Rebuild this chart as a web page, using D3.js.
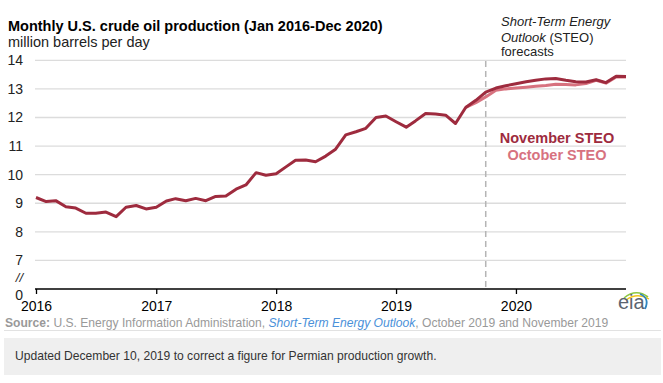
<!DOCTYPE html>
<html><head><meta charset="utf-8">
<script src="https://cdn.jsdelivr.net/npm/d3@7"></script>
<style>
body{margin:0;background:#fff;}
svg text{font-family:"Liberation Sans",Arial,sans-serif;}
</style></head>
<body><svg id="c" width="663" height="383"></svg>
<script>
// ---- data ----
const startMonth = new Date(2016, 0, 1);
const months = d3.timeMonth.range(startMonth, new Date(2021, 0, 1));
const novemberSTEO = [
  9.20, 9.06, 9.09, 8.88, 8.83, 8.65, 8.65, 8.69, 8.53, 8.86, 8.92, 8.80,
  8.86, 9.08, 9.16, 9.09, 9.17, 9.09, 9.24, 9.25, 9.49, 9.64, 10.07, 9.98,
  10.03, 10.28, 10.50, 10.51, 10.45, 10.65, 10.89, 11.39, 11.50, 11.62, 12.00, 12.05,
  11.85, 11.66, 11.88, 12.14, 12.12, 12.08, 11.79, 12.35, 12.60, 12.89, 13.03, 13.11,
  13.18, 13.25, 13.30, 13.35, 13.36, 13.30, 13.25, 13.24, 13.32, 13.22, 13.44, 13.43
];
const octoberSTEO = [
  null, null, null, null, null, null, null, null, null, null, null, null,
  null, null, null, null, null, null, null, null, null, null, null, null,
  null, null, null, null, null, null, null, null, null, null, null, null,
  null, null, null, null, null, null, null, 12.35, 12.52, 12.72, 12.95, 13.00,
  13.03, 13.06, 13.09, 13.12, 13.16, 13.15, 13.14, 13.19, 13.30, 13.20, 13.42, 13.42
];
const yTicks = [6, 7, 8, 9, 10, 11, 12, 13, 14];
const yTickLabels = ["0", "7", "8", "9", "10", "11", "12", "13", "14"];
const xTicks = [2016, 2017, 2018, 2019, 2020];
const forecastStart = new Date(2019, 9, 1);
const seriesNames = ["November STEO", "October STEO"];

// ---- chart ----
const svg = d3.select("#c");
const x = d3.scaleTime().domain([months[0], months[months.length - 1]]).range([36, 626]);
const y = d3.scaleLinear().domain([6, 14]).range([289, 60.3]);

// title
svg.append("text").attr("x", 8).attr("y", 31).attr("font-size", 14.5).attr("font-weight", "bold")
  .attr("fill", "#000").text("Monthly U.S. crude oil production (Jan 2016-Dec 2020)");
svg.append("text").attr("x", 8).attr("y", 47).attr("font-size", 14.5).attr("fill", "#222")
  .text("million barrels per day");

// gridlines
svg.append("g").selectAll("line").data(yTicks.filter(d => d > 6)).join("line")
  .attr("x1", 35).attr("x2", 626).attr("y1", d => y(d)).attr("y2", d => y(d))
  .attr("stroke", "#dcdcdc").attr("stroke-width", 1.3);

// y labels
svg.append("g").selectAll("text").data(yTicks).join("text")
  .attr("x", 23).attr("y", (d) => d === 6 ? 300 : y(d) + 5)
  .attr("text-anchor", "end").attr("font-size", 14).attr("fill", "#222")
  .text((d, i) => yTickLabels[i]);
svg.append("text").attr("x", 23).attr("y", 282).attr("text-anchor", "end")
  .attr("font-size", 13).attr("font-style", "italic").attr("fill", "#222").text("//");

// forecast divider
svg.append("line").attr("x1", x(forecastStart)).attr("x2", x(forecastStart))
  .attr("y1", 61).attr("y2", 289).attr("stroke", "#b5b5b5").attr("stroke-width", 1.5)
  .attr("stroke-dasharray", "6,4");

// x axis
const xAxis = d3.axisBottom(x)
  .tickValues(xTicks.map(v => new Date(v, 0, 1)))
  .tickFormat(d3.timeFormat("%Y")).tickSizeOuter(0).tickSize(5);
const gx = svg.append("g").attr("transform", "translate(0,289)").call(xAxis);
gx.select(".domain").attr("stroke", "#000").attr("stroke-width", 1.5)
  .attr("d", `M35,0H626`);
gx.selectAll(".tick line").attr("stroke", "#000").attr("stroke-width", 1.3);
gx.selectAll(".tick text").attr("font-size", 14).attr("fill", "#000").attr("dy", 0).attr("y", 21.5)
  .attr("font-family", '"Liberation Sans",Arial,sans-serif');

// lines
const line = d3.line().defined(d => d.v != null).x(d => x(d.m)).y(d => y(d.v)).curve(d3.curveLinear);
const octData = months.map((m, i) => ({m, v: octoberSTEO[i]}));
const novData = months.map((m, i) => ({m, v: novemberSTEO[i]}));
svg.append("path").datum(octData).attr("d", line).attr("fill", "none")
  .attr("stroke", "#d7727f").attr("stroke-width", 3).attr("stroke-linejoin", "round");
svg.append("path").datum(novData).attr("d", line).attr("fill", "none")
  .attr("stroke", "#9e2b3e").attr("stroke-width", 3).attr("stroke-linejoin", "round");

// annotation
const ann = svg.append("g").attr("font-size", 13).attr("fill", "#222");
ann.append("text").attr("x", 501).attr("y", 26).attr("font-style", "italic").text("Short-Term Energy");
const t2 = ann.append("text").attr("x", 501).attr("y", 41.5);
t2.append("tspan").attr("font-style", "italic").text("Outlook");
t2.append("tspan").text(" (STEO)");
ann.append("text").attr("x", 501).attr("y", 56).text("forecasts");

// legend
svg.append("text").attr("x", 557).attr("y", 143).attr("text-anchor", "middle")
  .attr("font-size", 14.5).attr("font-weight", "bold").attr("fill", "#9e2b3e").text(seriesNames[0]);
svg.append("text").attr("x", 557).attr("y", 160).attr("text-anchor", "middle")
  .attr("font-size", 14.5).attr("font-weight", "bold").attr("fill", "#d7727f").text(seriesNames[1]);

// eia logo
const logo = svg.append("g");
logo.append("path").attr("d", "M624,298 Q636,288 648,297").attr("fill", "none").attr("stroke", "#8dc63f").attr("stroke-width", 1.6);
logo.append("path").attr("d", "M626,300 Q637,292 649,299").attr("fill", "none").attr("stroke", "#f2c318").attr("stroke-width", 1.4);
logo.append("path").attr("d", "M640,294 Q650,298 645,309").attr("fill", "none").attr("stroke", "#2e86c1").attr("stroke-width", 1.8);
logo.append("text").attr("x", 618).attr("y", 309).attr("font-family", '"Liberation Serif","DejaVu Serif",serif')
  .attr("font-size", 20).attr("fill", "#5b6470").text("eia");

// source
const src = svg.append("text").attr("x", 5).attr("y", 327).attr("font-size", 12.1).attr("fill", "#999");
src.append("tspan").attr("font-weight", "bold").text("Source:");
src.append("tspan").text(" U.S. Energy Information Administration, ");
src.append("tspan").attr("font-style", "italic").attr("fill", "#4a90d9").text("Short-Term Energy Outlook");
src.append("tspan").text(", October 2019 and November 2019");

svg.append("line").attr("x1", 4).attr("x2", 661).attr("y1", 330.5).attr("y2", 330.5).attr("stroke", "#e2e2e2");
svg.append("rect").attr("x", 4).attr("y", 338).attr("width", 657).attr("height", 37).attr("fill", "#efefef");
svg.append("text").attr("x", 15).attr("y", 359.5).attr("font-size", 12.1).attr("fill", "#333")
  .text("Updated December 10, 2019 to correct a figure for Permian production growth.");
</script></body></html>
